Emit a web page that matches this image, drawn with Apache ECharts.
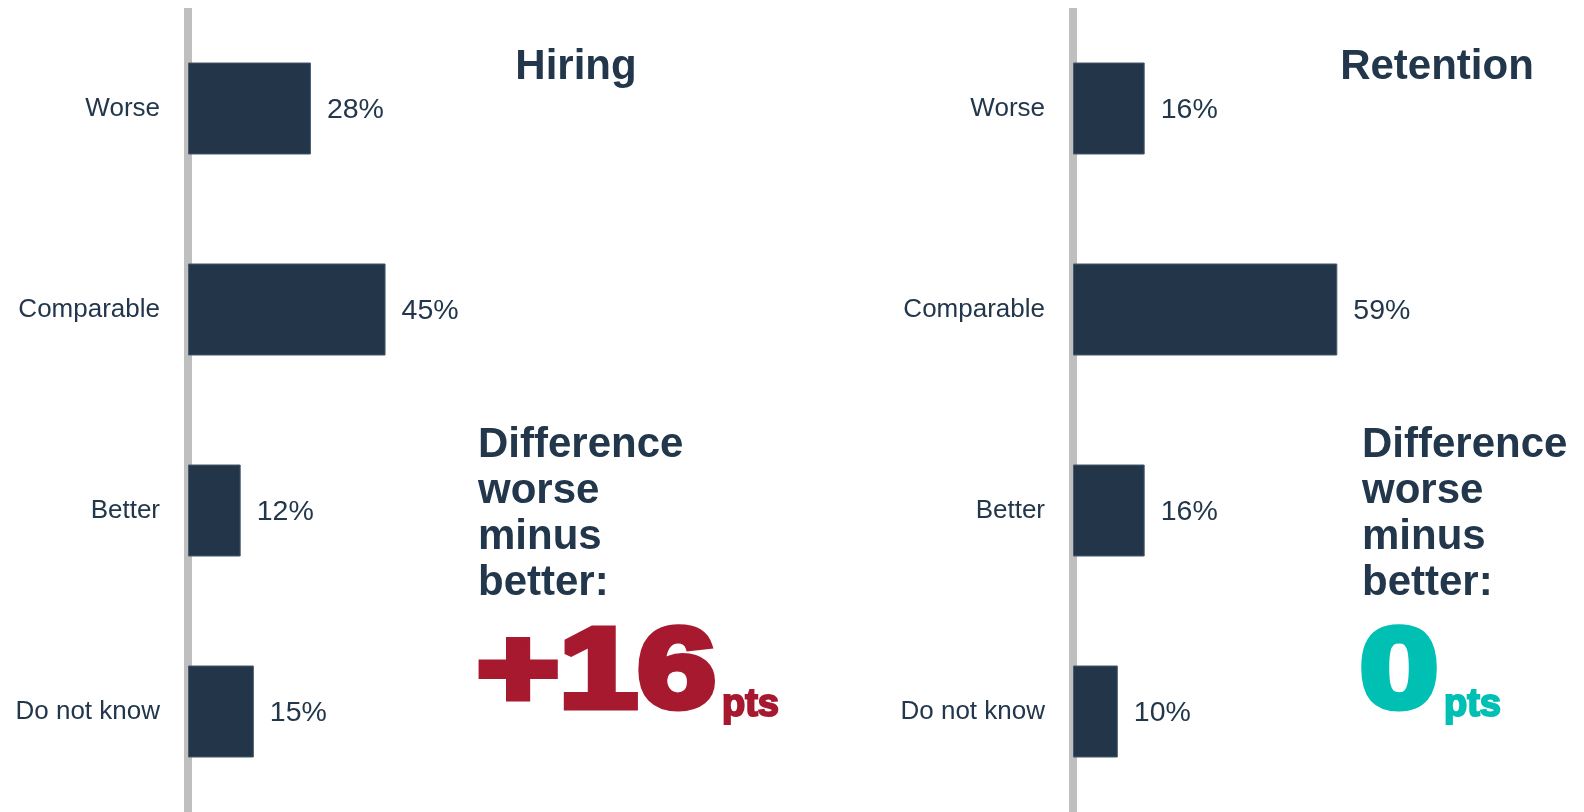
<!DOCTYPE html>
<html>
<head>
<meta charset="utf-8">
<title>Hiring and Retention</title>
<script src="https://cdn.jsdelivr.net/npm/echarts@6/dist/echarts.min.js"></script>
<style>
  html, body { margin: 0; padding: 0; background: #ffffff; }
  #chart { width: 1584px; height: 812px; }
</style>
</head>
<body>
<div id="chart"></div>
<script>
// Survey answers, one panel per topic
const categories = ['Worse', 'Comparable', 'Better', 'Do not know'];
const hiringValues = [28, 45, 12, 15];
const retentionValues = [16, 59, 16, 10];
const panelTitles = ['Hiring', 'Retention'];
const diffCaption = 'Difference\nworse\nminus\nbetter:';
const unitText = 'pts';

const NAVY = '#22374b';
const AXIS_GREY = '#c0bfbf';
const UP_RED = '#a6192e';
const FLAT_TEAL = '#00bfb3';
const FONT = '"Liberation Sans", Arial, Helvetica, sans-serif';

// worse minus better, in points
function diffOf(values) {
  return values[categories.indexOf('Worse')] - values[categories.indexOf('Better')];
}
function diffText(d) { return d > 0 ? '+' + d : String(d); }
function diffColor(d) { return d > 0 ? UP_RED : FLAT_TEAL; }

const panels = [
  { values: hiringValues, gridLeft: 188, gridWidth: 439, titleX: 576, textX: 478, bigX: 477, unitX: 722 },
  { values: retentionValues, gridLeft: 1073, gridWidth: 448, titleX: 1437, textX: 1362, bigX: 1360, unitX: 1444 }
];

const chart = echarts.init(document.getElementById('chart'), null, { renderer: 'canvas' });

const grids = [], xAxes = [], yAxes = [], series = [], graphics = [];

panels.forEach((p, i) => {
  grids.push({ left: p.gridLeft, top: 8, width: p.gridWidth, height: 804, containLabel: false });
  xAxes.push({ type: 'value', gridIndex: i, min: 0, max: 100, show: false });
  yAxes.push({
    type: 'category', gridIndex: i, data: categories, inverse: true, offset: 4,
    axisLine: { show: true, lineStyle: { color: AXIS_GREY, width: 8, cap: 'butt' } },
    axisTick: { show: false },
    splitLine: { show: false },
    axisLabel: { color: NAVY, fontSize: 26, fontFamily: FONT, margin: 24 }
  });
  series.push({
    type: 'bar', xAxisIndex: i, yAxisIndex: i, data: p.values,
    barWidth: 92,
    itemStyle: { color: '#233649', borderColor: '#46596d', borderWidth: 1 },
    label: {
      show: true, position: 'right', distance: 16, offset: [0, 2],
      formatter: '{c}%', color: NAVY, fontSize: 28.5, fontFamily: FONT
    },
    silent: true, animation: false
  });

  const d = diffOf(p.values);
  const c = diffColor(d);
  graphics.push(
    {
      type: 'text', x: p.titleX, y: 67,
      style: { text: panelTitles[i], fill: NAVY, font: 'bold 42px ' + FONT, align: 'center', verticalAlign: 'middle' }
    },
    {
      type: 'text', x: p.textX, y: 422,
      style: { text: diffCaption, fill: NAVY, font: 'bold 42px ' + FONT, lineHeight: 46, align: 'left', verticalAlign: 'top' }
    },
    {
      // big heavy figure: bold face widened and thickened with a same-colour outline
      type: 'text', x: p.bigX, y: 676, scaleX: 1.234,
      style: {
        text: diffText(d), fill: c, stroke: c, lineWidth: 7, lineJoin: 'miter',
        font: 'bold 114px ' + FONT, align: 'left', verticalAlign: 'middle'
      }
    },
    {
      type: 'text', x: p.unitX, y: 706,
      style: {
        text: unitText, fill: c, stroke: c, lineWidth: 2,
        font: 'bold 38px ' + FONT, align: 'left', verticalAlign: 'middle'
      }
    }
  );
});

chart.setOption({
  animation: false,
  backgroundColor: '#ffffff',
  grid: grids,
  xAxis: xAxes,
  yAxis: yAxes,
  series: series,
  graphic: graphics
});
</script>
</body>
</html>
